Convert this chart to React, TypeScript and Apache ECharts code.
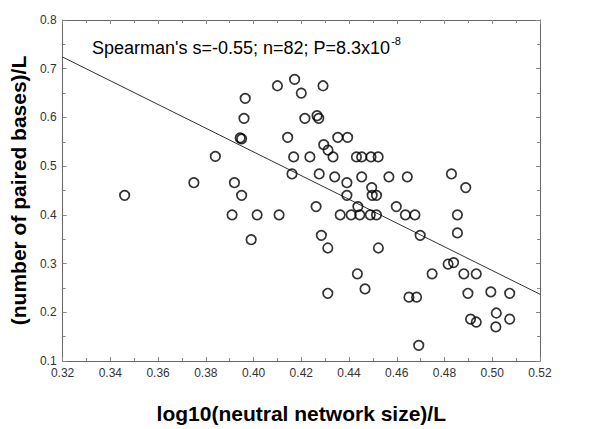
import React, { useEffect, useRef } from "react";
import * as echarts from "echarts";

const xValues = [
  0.346, 0.375, 0.384, 0.392, 0.391, 0.395, 0.3944, 0.395, 0.396, 0.3965,
  0.399, 0.4015, 0.41, 0.4107, 0.4143, 0.4172, 0.4168, 0.4161, 0.42, 0.4215,
  0.4236, 0.4262, 0.4266, 0.4273, 0.4275, 0.4291, 0.4294, 0.4284, 0.4312, 0.4311,
  0.4311, 0.4333, 0.434, 0.4353, 0.4394, 0.4363, 0.4391, 0.4391, 0.4409, 0.4431,
  0.4453, 0.4437, 0.4445, 0.4435, 0.4453, 0.4467, 0.4492, 0.4522, 0.4495, 0.4497,
  0.4515, 0.4489, 0.4515, 0.4523, 0.4567, 0.4598, 0.4636, 0.4676, 0.4644, 0.4698,
  0.4651, 0.4683, 0.4692, 0.4748, 0.4815, 0.4838, 0.4829, 0.4889, 0.4854, 0.4854,
  0.4881, 0.4933, 0.4898, 0.4909, 0.4933, 0.4994, 0.5073, 0.5017, 0.5015, 0.5073,
];
const yValues = [
  0.44, 0.466, 0.52, 0.466, 0.4, 0.44, 0.558, 0.556, 0.598, 0.639,
  0.349, 0.4, 0.665, 0.4, 0.559, 0.678, 0.519, 0.484, 0.65, 0.598,
  0.519, 0.417, 0.6035, 0.598, 0.484, 0.665, 0.544, 0.358, 0.533, 0.332,
  0.239, 0.519, 0.478, 0.559, 0.559, 0.4, 0.466, 0.44, 0.4, 0.519,
  0.519, 0.417, 0.4, 0.279, 0.478, 0.248, 0.519, 0.519, 0.456, 0.44,
  0.44, 0.4, 0.4, 0.332, 0.478, 0.417, 0.4, 0.4, 0.478, 0.358,
  0.231, 0.231, 0.132, 0.279, 0.299, 0.302, 0.484, 0.456, 0.4, 0.363,
  0.279, 0.279, 0.239, 0.186, 0.18, 0.242, 0.239, 0.1985, 0.17, 0.186,
];
const trendX = [0.32, 0.52];
const trendY = [0.724, 0.237];

const annotation = "Spearman's s=-0.55; n=82; P=8.3x10";
const annotationExp = "-8";

const FONT = "'Liberation Sans', Arial, sans-serif";

export default function App() {
  const ref = useRef<HTMLDivElement>(null);
  useEffect(() => {
    if (!ref.current) return;
    const chart = echarts.init(ref.current, null, { renderer: "svg" });
    const frame = { show: true, lineStyle: { color: "#666", width: 1 } };
    const tick = { show: true, inside: true, length: 4, lineStyle: { color: "#888" } };
    const minor = { show: true, splitNumber: 2, length: 3, lineStyle: { color: "#888" } };
    const mainFont = 18;
    const mainWidth = echarts.format.getTextRect
      ? (echarts.format as any).getTextRect(annotation, `${mainFont}px ${FONT}`)?.width
      : undefined;
    const textW = typeof mainWidth === "number" && mainWidth > 0 ? mainWidth : 298;
    chart.setOption({
      animation: false,
      backgroundColor: "#fff",
      textStyle: { fontFamily: FONT },
      grid: { left: 58, right: 60, top: 20, bottom: 61, containLabel: false },
      xAxis: [
        {
          type: "value",
          min: 0.32,
          max: 0.52,
          interval: 0.02,
          position: "bottom",
          axisLine: frame,
          axisTick: tick,
          minorTick: minor,
          splitLine: { show: false },
          axisLabel: {
            color: "#333",
            fontSize: 12,
            margin: 6,
            fontFamily: FONT,
            formatter: (v: number) => v.toFixed(2),
          },
          name: "log10(neutral network size)/L",
          nameLocation: "middle",
          nameGap: 42,
          nameTextStyle: { fontSize: 21, fontWeight: "bold", color: "#000", fontFamily: FONT },
        },
        {
          type: "value",
          min: 0.32,
          max: 0.52,
          interval: 0.02,
          position: "top",
          axisLine: frame,
          axisTick: tick,
          minorTick: minor,
          splitLine: { show: false },
          axisLabel: { show: false },
        },
      ],
      yAxis: [
        {
          type: "value",
          min: 0.1,
          max: 0.8,
          interval: 0.1,
          position: "left",
          axisLine: frame,
          axisTick: tick,
          minorTick: minor,
          splitLine: { show: false },
          axisLabel: {
            color: "#333",
            fontSize: 12,
            margin: 6,
            fontFamily: FONT,
            formatter: (v: number) => v.toFixed(1),
          },
          name: "(number of paired bases)/L",
          nameLocation: "middle",
          nameGap: 29,
          nameTextStyle: { fontSize: 21, fontWeight: "bold", color: "#000", fontFamily: FONT },
        },
        {
          type: "value",
          min: 0.1,
          max: 0.8,
          interval: 0.1,
          position: "right",
          axisLine: frame,
          axisTick: tick,
          minorTick: minor,
          splitLine: { show: false },
          axisLabel: { show: false },
        },
      ],
      graphic: [
        {
          type: "text",
          x: 92,
          y: 47.6,
          style: {
            text: annotation,
            fontSize: mainFont,
            fontFamily: FONT,
            fill: "#000",
            align: "left",
            verticalAlign: "middle",
          },
        },
        {
          type: "text",
          x: 92 + textW + 1,
          y: 40.7,
          style: {
            text: annotationExp,
            fontSize: 11,
            fontFamily: FONT,
            fill: "#000",
            align: "left",
            verticalAlign: "middle",
          },
        },
      ],
      series: [
        {
          type: "line",
          data: trendX.map((x, i) => [x, trendY[i]]),
          showSymbol: false,
          symbol: "none",
          lineStyle: { color: "#333", width: 1 },
          z: 1,
        },
        {
          type: "scatter",
          data: xValues.map((x, i) => [x, yValues[i]]),
          symbol: "circle",
          symbolSize: 9.5,
          itemStyle: { color: "rgba(255,255,255,0)", borderColor: "#000", borderWidth: 1.7 },
          z: 2,
        },
      ],
    });
    return () => chart.dispose();
  }, []);
  return (
    <div
      ref={ref}
      style={{ position: "fixed", left: 0, top: 0, width: 600, height: 429 }}
    />
  );
}
